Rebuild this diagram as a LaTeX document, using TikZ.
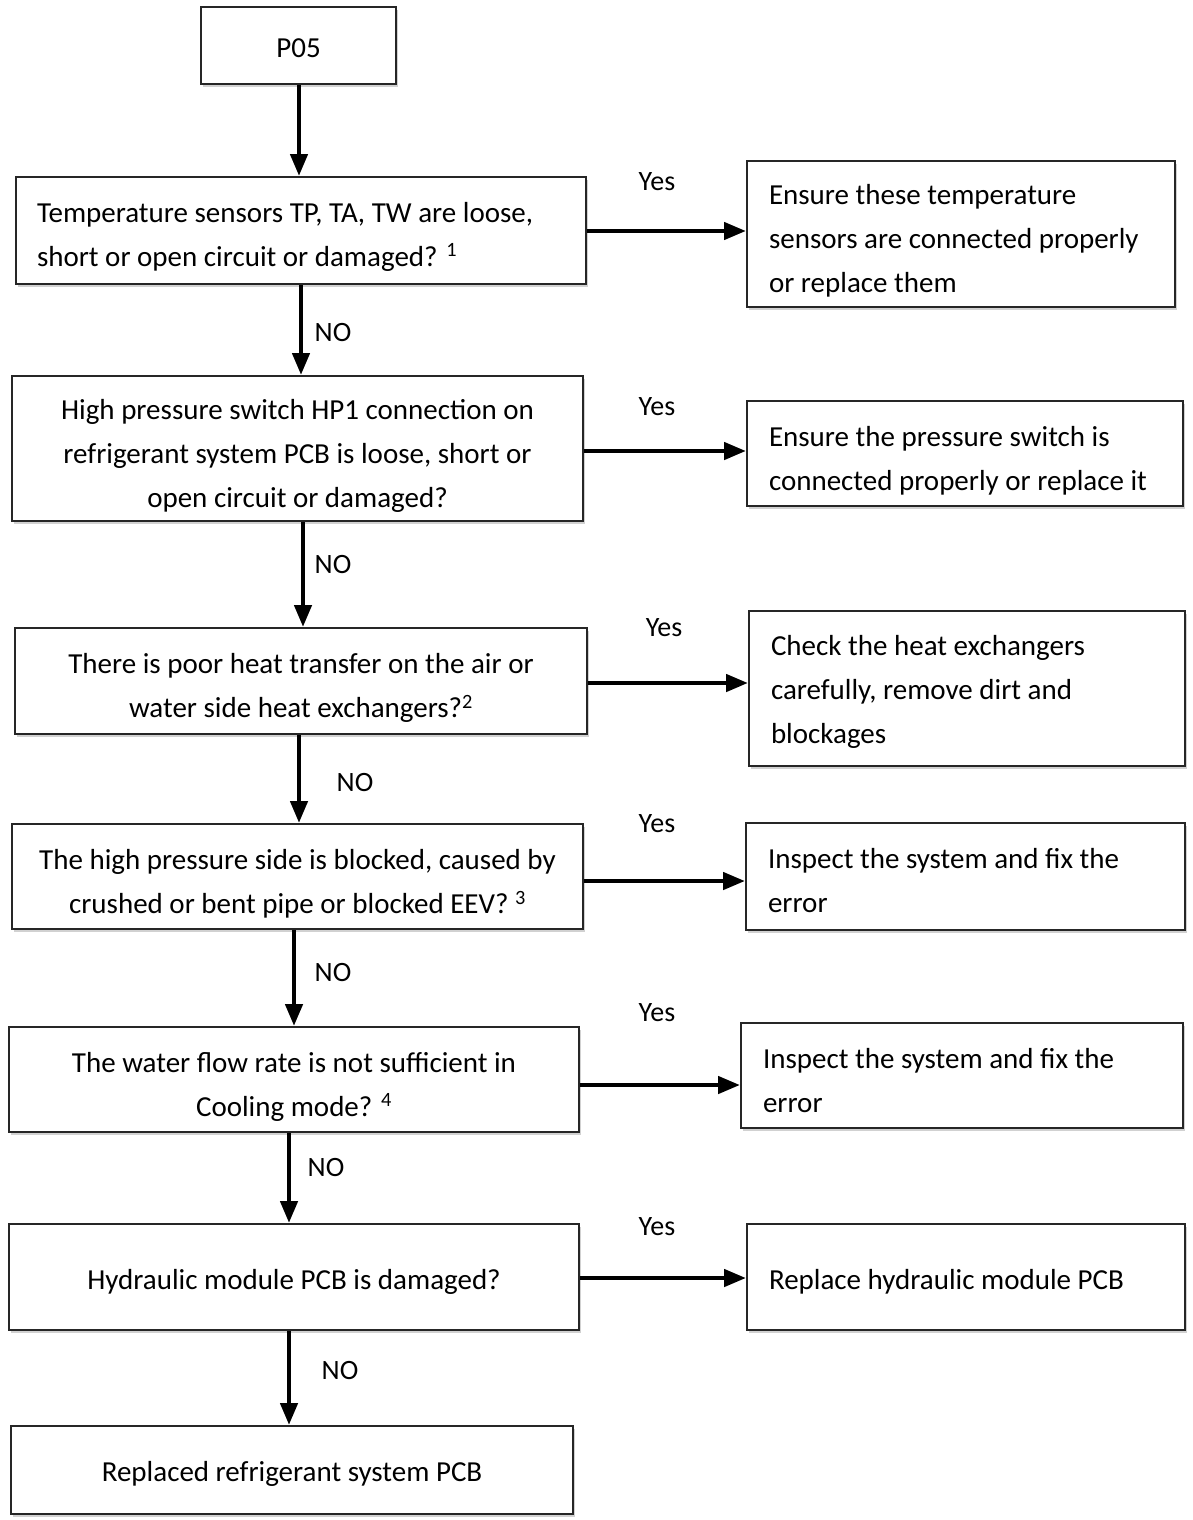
\documentclass[tikz,border=0pt]{standalone}
\usepackage{fontspec}
\setmainfont{Carlito}
\usetikzlibrary{arrows.meta,shadows}
\newcommand\dnrule[1][34pt]{\rule{0pt}{#1}}
\begin{document}
\begin{tikzpicture}[x=1pt,y=-1pt,
  box/.style={draw=black!85, line width=2pt, fill=white, rectangle,
    drop shadow={shadow xshift=2pt, shadow yshift=-3pt, fill=black!30, opacity=0.6},
    font=\fontsize{29}{44}\selectfont, inner sep=0pt},
  lbox/.style={box, align=flush left, text width=#1, inner xsep=22pt},
  cbox/.style={box, align=flush center},
  dn/.style={execute at begin node={\rule{0pt}{#1}}},
  dn/.default=34pt,
  arr/.style={line width=4.5pt, -{Triangle[length=22pt,width=17pt]}},
  lab/.style={font=\fontsize{28}{30}\selectfont, inner sep=0pt}]
\useasboundingbox (0,0) rectangle (1193,1520);

% left column
\node[cbox, dn=25pt, minimum width=195pt, minimum height=77pt] (p05) at (298.5,45.5) {P05};
\node[lbox=528pt, dn=32pt, inner xsep=21pt, minimum height=107pt] (b1) at (301,230.5)
  {Temperature sensors TP, TA, TW are loose,\\ short or open circuit or damaged? \textsuperscript{1}};
\node[cbox, minimum width=571pt, minimum height=145pt] (b2) at (297.5,448.5)
  {\dnrule High pressure switch HP1 connection on\\ refrigerant system PCB is loose, short or\\ open circuit or damaged?};
\node[cbox, minimum width=572pt, minimum height=106pt] (b3) at (301,681)
  {\dnrule There is poor heat transfer on the air or\\ water side heat exchangers?\textsuperscript{2}};
\node[cbox, minimum width=571pt, minimum height=105pt] (b4) at (297.5,876.5)
  {\dnrule The high pressure side is blocked, caused by\\ crushed or bent pipe or blocked EEV? \textsuperscript{3}};
\node[cbox, minimum width=570pt, minimum height=105pt] (b5) at (294,1079.5)
  {\dnrule The water flow rate is not sufficient in\\ Cooling mode? \textsuperscript{4}};
\node[cbox, dn=29pt, minimum width=570pt, minimum height=106pt] (b6) at (294,1277)
  {Hydraulic module PCB is damaged?};
\node[cbox, dn=27pt, minimum width=562pt, minimum height=88pt] (b7) at (292,1470)
  {Replaced refrigerant system PCB};

% right column
\node[lbox=384pt, dn, minimum height=146pt] (r1) at (961,234)
  {Ensure these temperature\\ sensors are connected properly\\ or replace them};
\node[lbox=392pt, dn, minimum height=105pt] (r2) at (965,453.5)
  {Ensure the pressure switch is\\ connected properly or replace it};
\node[lbox=392pt, dn=27pt, minimum height=155pt] (r3) at (967,688.5)
  {Check the heat exchangers\\ carefully, remove dirt and\\ blockages};
\node[lbox=395pt, dn=29pt, minimum height=107pt] (r4) at (965.5,876.5)
  {Inspect the system and fix the\\ error};
\node[lbox=398pt, dn=30pt, minimum height=105pt] (r5) at (962,1075.5)
  {Inspect the system and fix the\\ error};
\node[lbox=394pt, dn=29pt, minimum height=106pt] (r6) at (966,1277)
  {Replace hydraulic module PCB};

% vertical arrows
\draw[arr] ([xshift=0.5pt]p05.south) -- ([xshift=0.5pt]p05.south |- b1.north);
\draw[arr] (b1.south) -- (b1.south |- b2.north);
\draw[arr] ([xshift=5.5pt]b2.south) -- ([xshift=5.5pt]b2.south |- b3.north);
\draw[arr] ([xshift=-2pt]b3.south) -- ([xshift=-2pt]b3.south |- b4.north);
\draw[arr] ([xshift=-3.5pt]b4.south) -- ([xshift=-3.5pt]b4.south |- b5.north);
\draw[arr] ([xshift=-5pt]b5.south) -- ([xshift=-5pt]b5.south |- b6.north);
\draw[arr] ([xshift=-5pt]b6.south) -- ([xshift=-5pt]b6.south |- b7.north);

% horizontal arrows
\draw[arr] ([yshift=-0.5pt]b1.east) -- ([yshift=-0.5pt]b1.east -| r1.west);
\draw[arr] ([yshift=-2.5pt]b2.east) -- ([yshift=-2.5pt]b2.east -| r2.west);
\draw[arr] ([yshift=-2pt]b3.east) -- ([yshift=-2pt]b3.east -| r3.west);
\draw[arr] ([yshift=-4.5pt]b4.east) -- ([yshift=-4.5pt]b4.east -| r4.west);
\draw[arr] ([yshift=-5.5pt]b5.east) -- ([yshift=-5.5pt]b5.east -| r5.west);
\draw[arr] ([yshift=-1pt]b6.east) -- ([yshift=-1pt]b6.east -| r6.west);

% labels
\node[lab] (y1) at (657,182) {Yes};
\node[lab] (y2) at (657,407) {Yes};
\node[lab] (y3) at (664,628) {Yes};
\node[lab] (y4) at (657,824) {Yes};
\node[lab] (y5) at (657,1013) {Yes};
\node[lab] (y6) at (657,1227) {Yes};
\node[lab] (n1) at (333,333) {NO};
\node[lab] (n2) at (333,565) {NO};
\node[lab] (n3) at (355,783) {NO};
\node[lab] (n4) at (333,972) {NO};
\node[lab] (n5) at (326,1167) {NO};
\node[lab] (n6) at (340,1370) {NO};
\end{tikzpicture}
\end{document}
